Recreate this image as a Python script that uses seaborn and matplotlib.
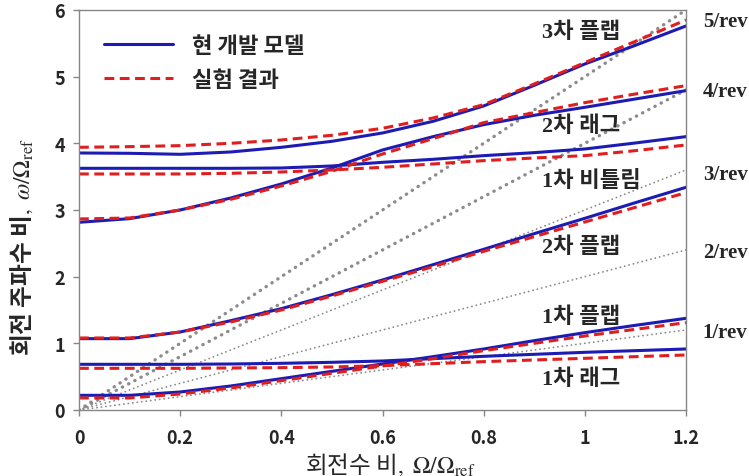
import pandas as pd
import seaborn as sns
import matplotlib.pyplot as plt
from matplotlib.lines import Line2D

# rotor speed ratio, Omega / Omega_ref
rotor_speed = [0, 0.1, 0.2, 0.3, 0.4, 0.5, 0.6, 0.7, 0.8, 0.9, 1.0, 1.1, 1.2]

# frequency ratio, omega / Omega_ref  (model = solid blue, test = dashed red)
lag1_model = [0.685, 0.685, 0.685, 0.69, 0.70, 0.715, 0.735, 0.77, 0.805, 0.835, 0.865, 0.89, 0.915]
lag1_test = [0.625, 0.625, 0.625, 0.63, 0.635, 0.645, 0.665, 0.695, 0.725, 0.75, 0.775, 0.80, 0.825]
flap1_model = [0.22, 0.22, 0.27, 0.36, 0.47, 0.58, 0.69, 0.80, 0.915, 1.04, 1.16, 1.27, 1.375]
flap1_test = [0.18, 0.18, 0.24, 0.33, 0.44, 0.55, 0.66, 0.77, 0.89, 1.00, 1.11, 1.21, 1.31]
flap2_model = [1.07, 1.07, 1.17, 1.34, 1.52, 1.73, 1.95, 2.18, 2.41, 2.645, 2.875, 3.11, 3.34]
flap2_test = [1.08, 1.08, 1.17, 1.32, 1.50, 1.71, 1.93, 2.15, 2.38, 2.60, 2.82, 3.04, 3.26]
lag2_model = [2.815, 2.87, 3.0, 3.18, 3.39, 3.63, 3.90, 4.10, 4.28, 4.42, 4.54, 4.665, 4.79]
lag2_test = [2.865, 2.88, 3.0, 3.16, 3.36, 3.58, 3.84, 4.07, 4.31, 4.46, 4.61, 4.74, 4.865]
tors1_model = [3.625, 3.625, 3.625, 3.625, 3.63, 3.66, 3.715, 3.76, 3.815, 3.86, 3.915, 4.005, 4.10]
tors1_test = [3.54, 3.54, 3.54, 3.55, 3.57, 3.60, 3.64, 3.69, 3.74, 3.78, 3.815, 3.89, 3.975]
flap3_model = [3.855, 3.85, 3.835, 3.87, 3.94, 4.03, 4.155, 4.33, 4.56, 4.87, 5.19, 5.47, 5.76]
flap3_test = [3.94, 3.95, 3.965, 4.0, 4.05, 4.12, 4.225, 4.38, 4.58, 4.89, 5.21, 5.53, 5.85]

rev_orders = [1, 2, 3, 4, 5]
rev_labels = ['1/rev', '2/rev', '3/rev', '4/rev', '5/rev']

mode_labels = ['1차 래그', '1차 플랩', '2차 플랩', '1차 비틀림', '2차 래그', '3차 플랩']

sns.set_style("white")
plt.rcParams['font.family'] = ['Noto Sans CJK KR', 'DejaVu Sans']
plt.rcParams['mathtext.fontset'] = 'stix'

MODEL = '현 개발 모델'
TEST = '실험 결과'
series = [
    ('lag1', lag1_model, lag1_test),
    ('flap1', flap1_model, flap1_test),
    ('flap2', flap2_model, flap2_test),
    ('lag2', lag2_model, lag2_test),
    ('tors1', tors1_model, tors1_test),
    ('flap3', flap3_model, flap3_test),
]
rows = []
for mode, model, test in series:
    for x, m, e in zip(rotor_speed, model, test):
        rows.append({'x': x, 'freq': m, 'mode': mode, 'src': MODEL})
        rows.append({'x': x, 'freq': e, 'mode': mode, 'src': TEST})
df = pd.DataFrame(rows)

rev_df = pd.DataFrame([{'n': n, 'x': x, 'freq': n * x} for n in rev_orders for x in (0, 1.2)])

fig = plt.figure(figsize=(7.49, 4.77), dpi=100)
ax = fig.add_axes([0.1055, 0.1384, 0.8104, 0.8386])

# n/rev lines
sns.lineplot(data=rev_df[rev_df.n <= 3], x='x', y='freq', units='n', estimator=None,
             color='#8c8c8c', linewidth=1.3, linestyle=(0, (0.1, 2.4)),
             dash_capstyle='round', ax=ax)
sns.lineplot(data=rev_df[rev_df.n >= 4], x='x', y='freq', units='n', estimator=None,
             color='#8c8c8c', linewidth=2.4, linestyle=(0, (0.1, 2.0)),
             dash_capstyle='round', ax=ax)

palette = {MODEL: '#1c1cb4', TEST: '#e01e1e'}
sns.lineplot(data=df, x='x', y='freq', hue='src', style='src', units='mode', estimator=None,
             palette=palette, dashes={MODEL: '', TEST: (3.2, 1.8)}, linewidth=2.2,
             sort=False, legend=False, ax=ax)

ax.set_xlim(0, 1.2)
ax.set_ylim(0, 6)
ax.set_xticks([0, 0.2, 0.4, 0.6, 0.8, 1.0, 1.2])
ax.set_xticklabels(['0', '0.2', '0.4', '0.6', '0.8', '1', '1.2'])
ax.set_yticks(range(7))
for lab in ax.get_xticklabels() + ax.get_yticklabels():
    lab.set_fontweight('bold')
    lab.set_fontsize(13)
ax.tick_params(axis='both', direction='out', length=4, width=1, color='#868686',
               bottom=True, left=True)
ax.tick_params(axis='x', pad=9)
ax.tick_params(axis='y', pad=6)
for sp in ax.spines.values():
    sp.set_color('#868686')
    sp.set_linewidth(1)

ax.set_xlabel(r'회전수 비$,\ \Omega/\Omega_{\rm ref}$', fontsize=17, va='center')
ax.xaxis.set_label_coords(0.512, -0.133)
ax.set_ylabel(r'회전 주파수 비$,\ \omega/\Omega_{\rm ref}$', fontsize=17, fontweight='bold',
              va='center')
ax.yaxis.set_label_coords(-0.095, 0.41)

# mode labels
label_pos = [(0.992, 0.465), (0.992, 1.395), (0.992, 2.445), (1.012, 3.435), (0.992, 4.26), (0.992, 5.68)]
for text, (lx, ly) in zip(mode_labels, label_pos):
    ax.text(lx, ly, text, ha='center', va='center', fontsize=16, fontweight='bold',
            family=['Liberation Serif', 'Noto Sans CJK KR'])

rev_y = [1.17, 2.37, 3.54, 4.785, 5.83]
for text, ry in zip(rev_labels, rev_y):
    ax.text(1.233, ry, text, ha='left', va='center', fontsize=15, fontweight='bold',
            family='Liberation Serif', clip_on=False)

handles = [Line2D([], [], color=palette[MODEL], lw=2.2),
           Line2D([], [], color=palette[TEST], lw=2.2, dashes=(3.2, 1.8))]
leg = ax.legend(handles, [MODEL, TEST], loc='upper left', bbox_to_anchor=(0.041, 0.94),
                frameon=False, fontsize=16, handlelength=3.1, handletextpad=0.85,
                borderpad=0, borderaxespad=0, labelspacing=0.5)
for t in leg.get_texts():
    t.set_fontweight('bold')

fig.savefig('out.png', dpi=100)
